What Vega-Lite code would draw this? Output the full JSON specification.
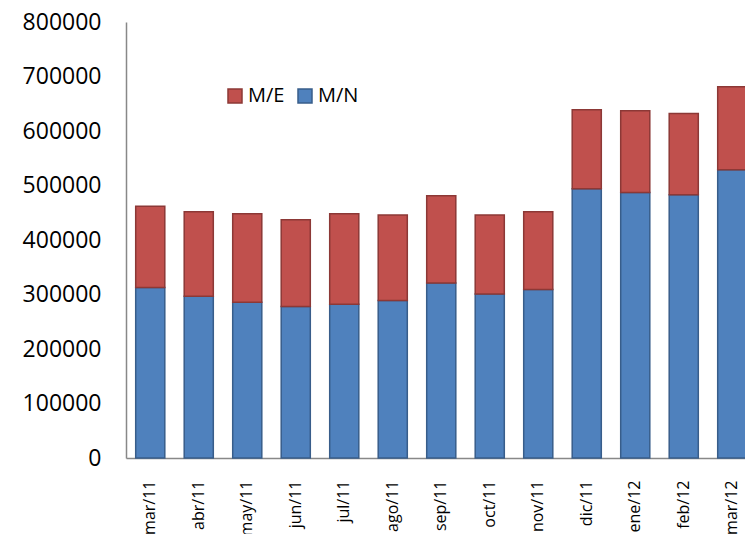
{
  "$schema": "https://vega.github.io/schema/vega-lite/v6.json",
  "width": 619,
  "height": 436,
  "autosize": {"type": "none"},
  "padding": {"left": 126, "top": 22, "right": 0, "bottom": 76},
  "data": {
    "values": [
      {"mes": "mar/11", "serie": "M/N", "valor": 313000},
      {"mes": "mar/11", "serie": "M/E", "valor": 149000},
      {"mes": "abr/11", "serie": "M/N", "valor": 297000},
      {"mes": "abr/11", "serie": "M/E", "valor": 155000},
      {"mes": "may/11", "serie": "M/N", "valor": 286000},
      {"mes": "may/11", "serie": "M/E", "valor": 162000},
      {"mes": "jun/11", "serie": "M/N", "valor": 278000},
      {"mes": "jun/11", "serie": "M/E", "valor": 159000},
      {"mes": "jul/11", "serie": "M/N", "valor": 282000},
      {"mes": "jul/11", "serie": "M/E", "valor": 166000},
      {"mes": "ago/11", "serie": "M/N", "valor": 289000},
      {"mes": "ago/11", "serie": "M/E", "valor": 157000},
      {"mes": "sep/11", "serie": "M/N", "valor": 321000},
      {"mes": "sep/11", "serie": "M/E", "valor": 160000},
      {"mes": "oct/11", "serie": "M/N", "valor": 301000},
      {"mes": "oct/11", "serie": "M/E", "valor": 145000},
      {"mes": "nov/11", "serie": "M/N", "valor": 309000},
      {"mes": "nov/11", "serie": "M/E", "valor": 143000},
      {"mes": "dic/11", "serie": "M/N", "valor": 494000},
      {"mes": "dic/11", "serie": "M/E", "valor": 145000},
      {"mes": "ene/12", "serie": "M/N", "valor": 487000},
      {"mes": "ene/12", "serie": "M/E", "valor": 150000},
      {"mes": "feb/12", "serie": "M/N", "valor": 483000},
      {"mes": "feb/12", "serie": "M/E", "valor": 149000},
      {"mes": "mar/12", "serie": "M/N", "valor": 529000},
      {"mes": "mar/12", "serie": "M/E", "valor": 152000}
    ]
  },
  "mark": {"type": "bar", "strokeWidth": 1.5},
  "encoding": {
    "x": {
      "field": "mes",
      "type": "nominal",
      "sort": null,
      "scale": {"range": [0, 630.5], "paddingInner": 0.4, "paddingOuter": 0.2},
      "axis": {
        "title": null,
        "labelAngle": -90,
        "labelPadding": 22,
        "ticks": false,
        "domainColor": "#888888",
        "domainWidth": 1.5,
        "labelFont": "Open Sans",
        "labelFontSize": 16,
        "labelColor": "#000000"
      }
    },
    "y": {
      "field": "valor",
      "type": "quantitative",
      "stack": "zero",
      "scale": {"domain": [0, 800000], "nice": false},
      "axis": {
        "title": null,
        "values": [0, 100000, 200000, 300000, 400000, 500000, 600000, 700000, 800000],
        "format": "d",
        "grid": false,
        "ticks": false,
        "labelPadding": 25,
        "domainColor": "#888888",
        "domainWidth": 1.5,
        "labelFont": "Open Sans",
        "labelFontSize": 23,
        "labelColor": "#000000"
      }
    },
    "fill": {
      "field": "serie",
      "type": "nominal",
      "scale": {"domain": ["M/E", "M/N"], "range": ["#C0504D", "#4F81BD"]},
      "legend": {
        "title": null,
        "orient": "none",
        "direction": "horizontal",
        "legendX": 99,
        "legendY": 64,
        "symbolType": "square",
        "symbolSize": 196,
        "symbolStrokeWidth": 1.5,
        "labelFont": "Open Sans",
        "labelFontSize": 20,
        "labelColor": "#000000",
        "labelOffset": 3,
        "columnPadding": 10
      }
    },
    "stroke": {
      "field": "serie",
      "type": "nominal",
      "scale": {"domain": ["M/E", "M/N"], "range": ["#8C3836", "#385D8A"]},
      "legend": null
    },
    "order": {"field": "serie", "sort": "descending"}
  },
  "config": {
    "view": {"stroke": null},
    "background": "#ffffff"
  }
}
